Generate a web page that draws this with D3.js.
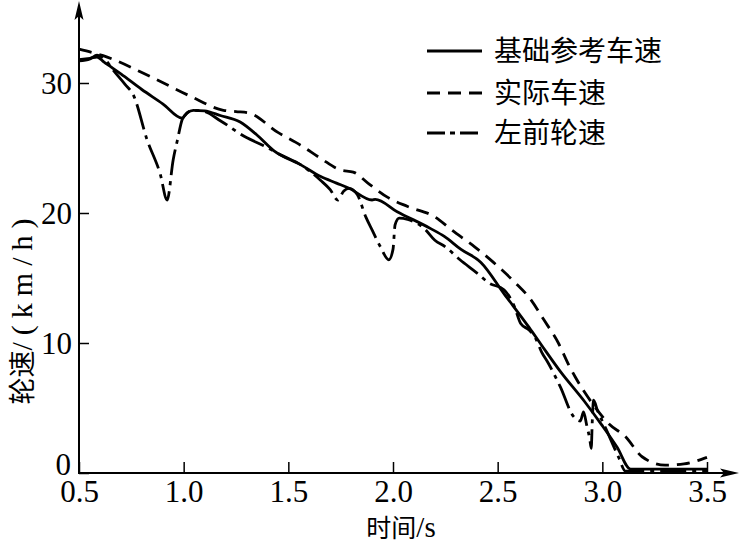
<!DOCTYPE html>
<html><head><meta charset="utf-8">
<script src="https://cdn.jsdelivr.net/npm/d3@7"></script>
<style>html,body{margin:0;padding:0;background:#fff;}</style>
</head><body>
<svg id="c" width="740" height="543"></svg>
<script>
// ---- data ----
const xTicks = [0.5, 1.0, 1.5, 2.0, 2.5, 3.0, 3.5];
const yTicks = [0, 10, 20, 30];
const seriesNames = ["基础参考车速", "实际车速", "左前轮速"];
const xTitle = ["时间", "/s"];
const yTitle = ["轮速", "/(km/h)"];

// 基础参考车速 (solid)
const refT = [0.5, 0.553, 0.586, 0.62, 0.70, 0.80, 0.90, 0.993, 1.017, 1.046, 1.10, 1.175, 1.27, 1.35, 1.43, 1.56, 1.655, 1.73, 1.79, 1.90, 1.915, 2.02, 2.18, 2.245, 2.325, 2.42, 2.53, 2.65, 2.709, 2.80, 2.915, 2.997, 3.07, 3.135, 3.5];
const refV = [31.8, 31.9, 32.0, 31.6, 30.7, 29.5, 28.4, 27.3, 27.7, 27.9, 27.85, 27.5, 27.0, 26.0, 24.8, 23.7, 22.8, 22.3, 21.9, 21.0, 21.05, 20.1, 18.8, 18.2, 17.2, 16.2, 13.8, 11.2, 9.85, 7.8, 5.5, 3.7, 2.0, 0.3, 0.3];

// 实际车速 (dashed)
const actT = [0.5, 0.615, 0.84, 1.03, 1.19, 1.25, 1.31, 1.45, 1.56, 1.655, 1.75, 1.81, 1.88, 1.975, 2.07, 2.2, 2.28, 2.39, 2.48, 2.58, 2.66, 2.72, 2.79, 2.84, 2.87, 2.95, 3.03, 3.11, 3.19, 3.3, 3.39, 3.5];
const actV = [32.6, 32.1, 30.5, 29.0, 27.9, 27.8, 27.7, 26.2, 25.2, 24.2, 23.3, 23.15, 22.3, 21.2, 20.5, 19.7, 18.7, 17.4, 16.2, 14.7, 13.3, 11.8, 10.0, 8.3, 7.4, 5.4, 3.8, 2.8, 1.25, 0.6, 0.7, 1.2];

// 左前轮速 (dash-dot)
const whlT = [0.5, 0.553, 0.586, 0.625, 0.663, 0.72, 0.759, 0.826, 0.888, 0.921, 0.95, 0.97, 0.993, 1.017, 1.046, 1.10, 1.175, 1.30, 1.38, 1.46, 1.56, 1.655, 1.70, 1.736, 1.765, 1.79, 1.83, 1.87, 1.90, 1.94, 1.98, 2.0, 2.01, 2.03, 2.07, 2.15, 2.20, 2.25, 2.32, 2.40, 2.46, 2.53, 2.58, 2.61, 2.65, 2.68, 2.71, 2.74, 2.80, 2.86, 2.895, 2.91, 2.925, 2.94, 2.947, 2.952, 2.958, 2.976, 3.02, 3.078, 3.11, 3.5];
const whlV = [31.7, 31.85, 32.15, 31.8, 31.0, 29.9, 29.1, 25.6, 23.0, 21.0, 24.1, 25.6, 27.2, 27.7, 27.9, 27.8, 27.1, 25.8, 25.2, 24.5, 23.7, 22.5, 21.8, 21.0, 21.7, 21.9, 21.4, 19.7, 18.7, 17.4, 16.4, 17.2, 19.1, 19.6, 19.5, 18.8, 17.9, 17.4, 16.4, 15.4, 14.6, 14.1, 12.8, 11.5, 11.0, 10.4, 9.3, 8.5, 6.6, 4.4, 4.0, 4.7, 3.7, 2.6, 1.9, 4.0, 5.6, 4.85, 3.3, 1.2, 0.15, 0.15];

// ---- drawing ----
const svg = d3.select("#c");
const x = d3.scaleLinear().domain([0.5, 3.5]).range([79, 707]);
const y = d3.scaleLinear().domain([0, 30]).range([473, 83]);
const serif = "'Liberation Serif','Times New Roman',serif";
const cjk = "'Noto Sans CJK SC','Noto Sans CJK JP',sans-serif";

// axes
const gx = svg.append("g").attr("transform", "translate(0,473)")
  .call(d3.axisBottom(x).tickValues(xTicks).tickSize(-11).tickFormat(d3.format(".1f")));
gx.select(".domain").remove();
gx.selectAll(".tick line").attr("stroke", "#000").attr("stroke-width", 1.5);
gx.selectAll(".tick text").attr("y", 29).attr("dy", 0)
  .style("font-family", serif).style("font-size", "31px").attr("fill", "#000");

const gy = svg.append("g").attr("transform", "translate(79,0)")
  .call(d3.axisLeft(y).tickValues(yTicks).tickSize(-10).tickFormat(d3.format("d")));
gy.select(".domain").remove();
gy.selectAll(".tick line").attr("stroke", "#000").attr("stroke-width", 1.5);
gy.selectAll(".tick text").attr("x", d => d === 0 ? -8 : -7).attr("dy", d => d === 0 ? "0.05em" : "0.34em")
  .style("font-family", serif).style("font-size", "31px").attr("fill", "#000");

// axis lines with arrows
svg.append("line").attr("x1", 79).attr("y1", 474).attr("x2", 79).attr("y2", 6)
  .attr("stroke", "#000").attr("stroke-width", 2);
svg.append("path").attr("d", "M79,1 L74.5,20 L79,16 L83.5,20 Z").attr("fill", "#000");
svg.append("line").attr("x1", 78).attr("y1", 473).attr("x2", 734).attr("y2", 473)
  .attr("stroke", "#000").attr("stroke-width", 2);
svg.append("path").attr("d", "M739,473 L720,468.5 L724,473 L720,477.5 Z").attr("fill", "#000");

// series
const mk = (T, V) => T.map((t, i) => [t, V[i]]);
const line = d3.line().x(d => x(d[0])).y(d => y(d[1])).curve(d3.curveMonotoneX);
const styles = [
  {data: mk(refT, refV), dash: null},
  {data: mk(actT, actV), dash: "13,8"},
  {data: mk(whlT, whlV), dash: "26,6,4,6"}
];
svg.append("g").selectAll("path").data(styles).join("path")
  .attr("d", d => line(d.data))
  .attr("fill", "none").attr("stroke", "#000").attr("stroke-width", 2.8)
  .attr("stroke-linejoin", "round")
  .attr("stroke-dasharray", d => d.dash);

// legend
const legY = [51, 93, 133];
const legDash = [null, "13,8", "18,5,5,5"];
const lg = svg.append("g");
seriesNames.forEach((n, i) => {
  lg.append("line").attr("x1", 427).attr("x2", 482).attr("y1", legY[i]).attr("y2", legY[i])
    .attr("stroke", "#000").attr("stroke-width", 3).attr("stroke-dasharray", legDash[i]);
  lg.append("text").attr("x", 494).attr("y", legY[i] + 10)
    .style("font-family", cjk).style("font-size", "28px").attr("fill", "#000").text(n);
});

// titles
const xt = svg.append("text").attr("x", 401).attr("y", 537).attr("text-anchor", "middle")
  .attr("fill", "#000");
xt.append("tspan").style("font-family", cjk).style("font-size", "25px").text(xTitle[0]);
xt.append("tspan").style("font-family", serif).style("font-size", "29px").text(xTitle[1]);

const yt = svg.append("text").attr("transform", "translate(32,308) rotate(-90)").attr("text-anchor", "middle")
  .attr("fill", "#000");
yt.append("tspan").style("font-family", cjk).style("font-size", "27px").text(yTitle[0]);
yt.append("tspan").style("font-family", serif).style("font-size", "30px")
  .style("letter-spacing", "7px").text(yTitle[1]);
</script>
</body></html>
